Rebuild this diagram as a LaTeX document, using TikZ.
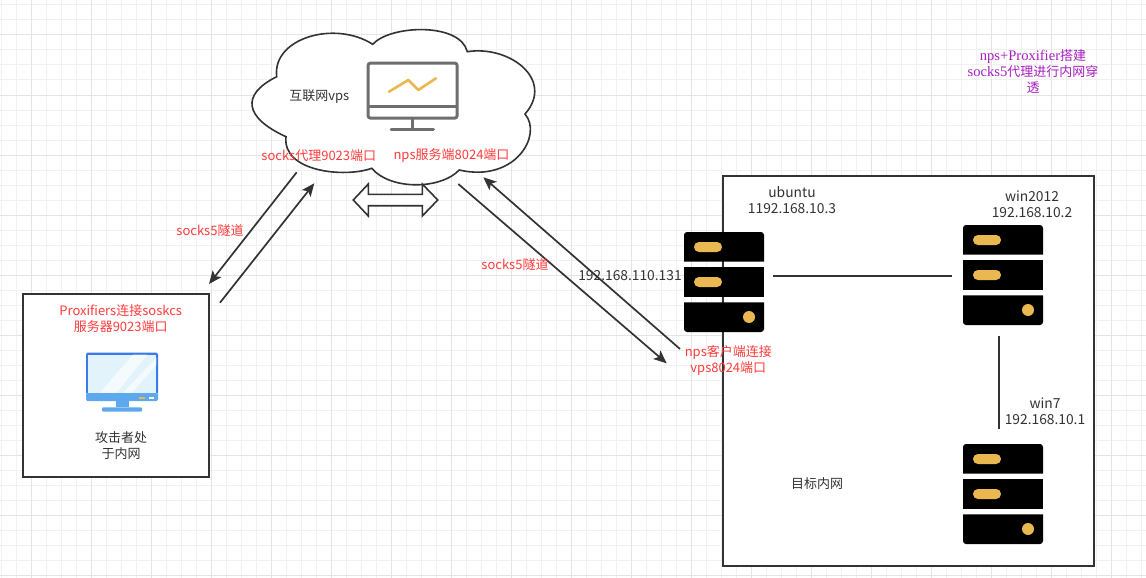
\documentclass[tikz,border=0pt]{standalone}
\usepackage{fontspec}
\setmainfont{Noto Sans CJK SC}
\newfontfamily\purplefont[Scale=1.12]{Liberation Serif}
\usetikzlibrary{arrows.meta,positioning,calc}
\definecolor{ink}{HTML}{333333}
\definecolor{redtext}{HTML}{FF3B3B}
\definecolor{violet}{HTML}{A61FBF}
\definecolor{gridthin}{HTML}{F1F1F1}
\definecolor{gridbold}{HTML}{E4E4E4}
\definecolor{amber}{HTML}{E9B850}
\definecolor{slate}{HTML}{6E6E6E}
\definecolor{pcframe}{HTML}{3A7BE8}
\definecolor{pcscreen}{HTML}{E3F3FC}
\definecolor{pcbar}{HTML}{5EA9EE}
\tikzset{
  lab/.style={font=\fontsize{13}{16}\selectfont, text=ink, align=center, inner sep=0pt},
  iplab/.style={lab, font=\fontsize{13.8}{16}\selectfont},
  redlab/.style={lab, text=redtext},
  netbox/.style={draw=ink, line width=2pt, fill=white, inner sep=0pt},
  arr/.style={-{Stealth[length=13pt,width=11pt,inset=3pt]}, line width=1.7pt, draw=ink},
  wire/.style={line width=1.7pt, draw=ink},
  serverpic/.pic={
    \fill[black] (-40,-20.3) [rounded corners=3pt] -- (-40,-50) -- (40,-50) [sharp corners] -- (40,-20.3) -- cycle;
    \fill[black] (-40,-15) rectangle (40,15);
    \fill[black] (-40,20.3) [rounded corners=3pt] -- (-40,50) -- (40,50) [sharp corners] -- (40,20.3) -- cycle;
    \fill[amber, rounded corners=4.9pt] (-30,-40) rectangle (-2,-30);
    \fill[amber, rounded corners=4.9pt] (-30,-5) rectangle (-2,5);
    \fill[amber] (25,35) circle (6);
  },
}
\begin{document}
\begin{tikzpicture}[x=1pt,y=-1pt]
  \useasboundingbox (0,0) rectangle (1146,578);
  \fill[white] (0,0) rectangle (1146,578);
  \foreach \gx in {1.7,16.7,...,1146} \draw[gridthin, line width=1pt] (\gx,0) -- (\gx,578);
  \foreach \gy in {5,20,...,578} \draw[gridthin, line width=1pt] (0,\gy) -- (1146,\gy);
  \foreach \gx in {31.7,91.7,...,1146} \draw[gridbold, line width=1pt] (\gx,0) -- (\gx,578);
  \foreach \gy in {35,95,...,578} \draw[gridbold, line width=1pt] (0,\gy) -- (1146,\gy);

  \node[netbox, minimum width=186.3pt, minimum height=182.7pt] (attacker) at (116.2,385.4) {};
  \node[netbox, minimum width=371.3pt, minimum height=390pt] (target) at (908.7,371) {};

  \draw[line width=1.6pt, draw=ink, fill=white] (276.7,76.7)
    .. controls (272,38) and (335,20) .. (372.7,44.3)
    .. controls (390,25) and (460,22) .. (467.3,51.7)
    .. controls (510,45) and (555,80) .. (525,114)
    .. controls (543,135) and (515,183) .. (459.3,170)
    .. controls (440,190) and (390,190) .. (371.7,168.3)
    .. controls (345,178) and (282,172) .. (286,136.7)
    .. controls (245,118) and (240,95) .. (276.7,76.7) -- cycle;

  \draw[slate, line width=3pt, rounded corners=2pt] (368.2,63.2) rectangle (457,118);
  \draw[slate, line width=3pt] (368.2,106.7) -- (457,106.7);
  \draw[slate, line width=3pt] (412.7,118) -- (412.7,129.7);
  \draw[slate, line width=3pt, line cap=round] (391,129.7) -- (433.5,129.7);
  \draw[amber, line width=2.6pt, line cap=round, line join=round] (389,91.7) -- (408.3,80) -- (418.3,90) -- (436,78.3);

  \draw[line width=1.6pt, draw=ink, fill=white] (353.3,200) -- (368.3,184) -- (368.3,194.3) -- (422.3,194.3)
    -- (422.3,184) -- (437.7,200) -- (422.3,216) -- (422.3,205.7) -- (368.3,205.7) -- (368.3,216) -- cycle;

  \fill[pcframe, rounded corners=1.5pt] (86,352.7) rectangle (158,394);
  \fill[pcbar, rounded corners=1.5pt] (86,392.7) rectangle (158,401);
  \fill[pcscreen] (87.6,354.7) rectangle (156.4,392.7);
  \fill[white, opacity=.65] (100,392.7) -- (116.7,392.7) -- (147,354.7) -- (133,354.7) -- cycle;
  \fill[white, opacity=.65] (123,392.7) -- (131.7,392.7) -- (156.4,365) -- (156.4,358) -- cycle;
  \fill[amber] (139.3,397) rectangle (144.7,399);
  \fill[white] (148.7,397) rectangle (154,399);
  \fill[pcbar] (115.7,401) rectangle (128.7,407.3);
  \fill[pcbar, rounded corners=1pt] (102,407.3) rectangle (142,411.7);

  \pic (ubuntu) at (724,282) {serverpic};
  \pic (win2012) at (1003,275) {serverpic};
  \pic (win7) at (1003,494) {serverpic};

  \coordinate (tunnelA) at (296.7,172.3);
  \coordinate (tunnelB) at (209,284);
  \coordinate (tunnelC) at (220,302.7);
  \coordinate (tunnelD) at (314.3,183.3);
  \coordinate (npsA) at (458.3,184);
  \coordinate (npsB) at (666.7,363.3);
  \coordinate (npsC) at (680,349);
  \coordinate (npsD) at (483.3,177.3);
  \coordinate (lanA) at (773.3,276);
  \coordinate (lanB) at (951.7,276);
  \coordinate (lanC) at (999,336);
  \coordinate (lanD) at (999,429.3);
  \draw[arr] (tunnelA) -- (tunnelB);
  \draw[arr] (tunnelC) -- (tunnelD);
  \draw[arr] (npsA) -- (npsB);
  \draw[arr] (npsC) -- (npsD);
  \draw[wire] (lanA) -- (lanB);
  \draw[wire] (lanC) -- (lanD);

  \node[lab] (vpsname) at (319.3,96.7) {互联网vps};
  \node[redlab] (proxyport) at (318.8,155.7) {socks代理9023端口};
  \node[redlab] (npsport) at (451.5,155.7) {nps服务端8024端口};
  \node[redlab] (tunnelleft) at (210,230.7) {socks5隧道};
  \node[redlab] (tunnelright) at (515,265) {socks5隧道};
  \node[redlab] (proxifier) at (120.7,318.3) {Proxifiers连接soskcs\\服务器9023端口};
  \node[lab] (attackerlab) at (121,445.7) {攻击者处\\于内网};
  \node[iplab] (publicip) at (630,275.3) {192.168.110.131};
  \node[iplab] (ubuntulab) at (792,200) {ubuntu\\1192.168.10.3};
  \node[iplab] (win2012lab) at (1032,204) {win2012\\192.168.10.2};
  \node[iplab] (win7lab) at (1045,411) {win7\\192.168.10.1};
  \node[lab] (targetlab) at (817,484) {目标内网};
  \node[redlab] (npsclient) at (728.3,360.7) {nps客户端连接\\vps8024端口};
  \node[lab, text=violet] (titlelab) at (1033,71.7) {{\purplefont nps+Proxifier}搭建\\{\purplefont socks5}代理进行内网穿\\透};
\end{tikzpicture}
\end{document}
